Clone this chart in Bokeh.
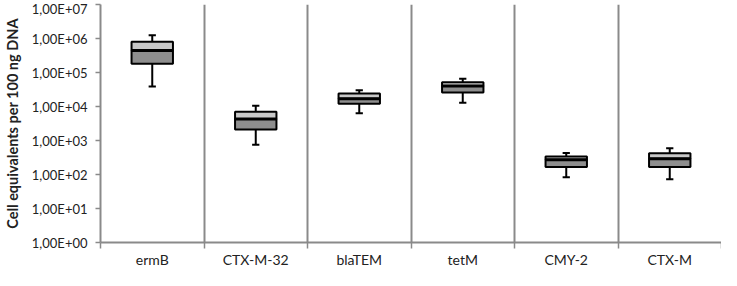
from bokeh.plotting import figure
from bokeh.models import Range1d, FixedTicker, CustomJSTickFormatter, ColumnDataSource
from bokeh.embed import file_html
from bokeh.resources import INLINE

categories = ["ermB", "CTX-M-32", "blaTEM", "tetM", "CMY-2", "CTX-M"]
whisker_low = [3.9e4, 7.5e2, 6.3e3, 1.3e4, 83, 72]
q1 = [1.8e5, 2.1e3, 1.2e4, 2.6e4, 1.65e2, 1.65e2]
median = [4.4e5, 4.3e3, 1.7e4, 4.0e4, 2.7e2, 2.9e2]
q3 = [8.0e5, 7.0e3, 2.4e4, 5.2e4, 3.4e2, 4.2e2]
whisker_high = [1.25e6, 1.05e4, 3.0e4, 6.6e4, 4.3e2, 5.9e2]
y_ticks = [1, 10, 100, 1e3, 1e4, 1e5, 1e6, 1e7]

n = len(categories)
xc = [i + 0.5 for i in range(n)]
box_w = 0.4
cap_w = 0.07

src = ColumnDataSource(dict(x=xc, lo=whisker_low, q1=q1, med=median, q3=q3, hi=whisker_high,
                            cl=[x - cap_w / 2 for x in xc], cr=[x + cap_w / 2 for x in xc],
                            bl=[x - box_w / 2 for x in xc], br=[x + box_w / 2 for x in xc]))

p = figure(width=721, height=270, output_backend="svg", toolbar_location=None,
           y_axis_type="log", x_range=Range1d(0, n), y_range=Range1d(1, 1e7),
           min_border_left=95, min_border_right=0, min_border_top=4, min_border_bottom=20)
p.outline_line_color = None
p.background_fill_color = "white"
p.border_fill_color = "white"

# grids
p.ygrid.visible = False
p.xgrid.ticker = FixedTicker(ticks=list(range(1, n)))
p.xgrid.grid_line_color = "#8a8a8a"
p.xgrid.grid_line_width = 2

# x axis: labels at category centres, ticks at category boundaries
p.xaxis.ticker = FixedTicker(ticks=xc, minor_ticks=list(range(0, n + 1)))
p.xaxis.major_label_overrides = {x: c for x, c in zip(xc, categories)}
p.xaxis.major_tick_line_color = None
p.xaxis.major_tick_out = 0
p.xaxis.major_tick_in = 0
p.xaxis.minor_tick_line_color = "#8a8a8a"
p.xaxis.minor_tick_line_width = 1.5
p.xaxis.minor_tick_out = 6
p.xaxis.minor_tick_in = 0
p.xaxis.axis_line_color = "#8a8a8a"
p.xaxis.axis_line_width = 2
p.xaxis.major_label_text_font = "Lato"
p.xaxis.major_label_text_font_size = "14px"
p.xaxis.major_label_text_color = "#222222"
p.xaxis.major_label_standoff = 2

# y axis
p.yaxis.ticker = FixedTicker(ticks=y_ticks, minor_ticks=[])
p.yaxis.formatter = CustomJSTickFormatter(code="""
const e = Math.round(Math.log10(tick));
return "1,00E+" + String(e).padStart(2, "0");
""")
p.yaxis.axis_line_color = "#8a8a8a"
p.yaxis.axis_line_width = 2
p.yaxis.major_tick_line_color = "#8a8a8a"
p.yaxis.major_tick_line_width = 1.5
p.yaxis.major_tick_out = 5
p.yaxis.major_tick_in = 0
p.yaxis.minor_tick_line_color = None
p.yaxis.major_label_text_font = "Lato"
p.yaxis.major_label_text_font_size = "13px"
p.yaxis.major_label_text_color = "#222222"
p.yaxis.major_label_standoff = 8
p.yaxis.axis_label = "Cell equivalents per 100 ng DNA"
p.yaxis.axis_label_text_font = "Lato"
p.yaxis.axis_label_text_font_size = "14.5px"
p.yaxis.axis_label_text_font_style = "bold"
p.yaxis.axis_label_text_color = "#222222"
p.yaxis.axis_label_standoff = 8

# whiskers
p.segment(x0="x", y0="q3", x1="x", y1="hi", source=src, line_color="black", line_width=2)
p.segment(x0="x", y0="lo", x1="x", y1="q1", source=src, line_color="black", line_width=2)
p.segment(x0="cl", y0="hi", x1="cr", y1="hi", source=src, line_color="black", line_width=2)
p.segment(x0="cl", y0="lo", x1="cr", y1="lo", source=src, line_color="black", line_width=2)

# boxes
p.vbar(x="x", width=box_w, bottom="q1", top="med", source=src,
       fill_color="#8e8e8e", line_color="black", line_width=2)
p.vbar(x="x", width=box_w, bottom="med", top="q3", source=src,
       fill_color="#c8c8c8", line_color="black", line_width=2)
p.segment(x0="bl", y0="med", x1="br", y1="med", source=src, line_color="black", line_width=3)

open("out.html", "w").write(file_html(p, INLINE))
